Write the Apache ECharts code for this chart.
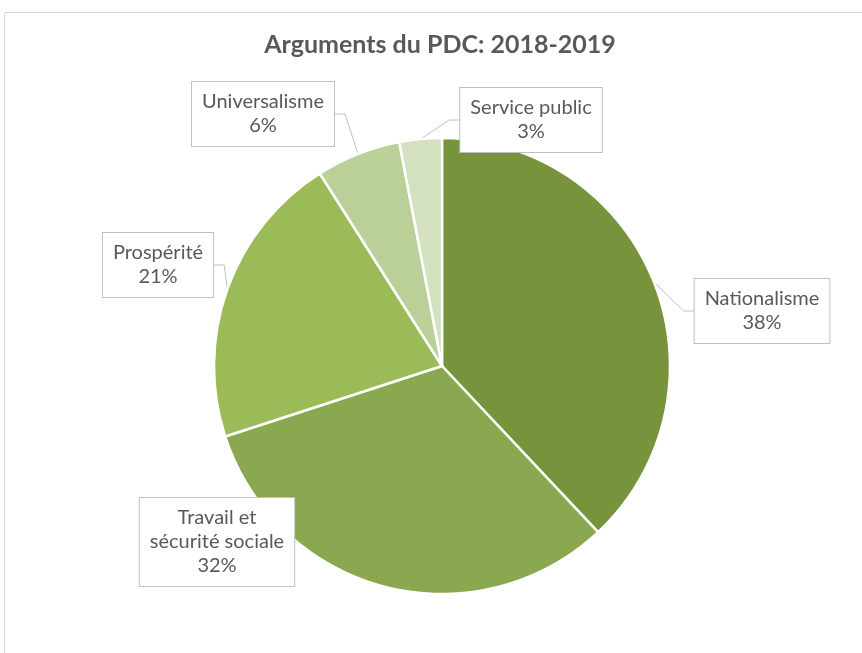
<!DOCTYPE html>
<html>
<head>
<meta charset="utf-8">
<title>Arguments du PDC: 2018-2019</title>
<script src="https://cdn.jsdelivr.net/npm/echarts@6/dist/echarts.min.js"></script>
<style>
  html, body { margin: 0; padding: 0; background: #ffffff; }
  #chart { width: 862px; height: 653px; }
</style>
</head>
<body>
<div id="chart"></div>
<script>
// Categories and shares (percent), clockwise from 12 o'clock
const categories = ['Nationalisme', 'Travail et\nsécurité sociale', 'Prospérité', 'Universalisme', 'Service public'];
const shares = [38, 32, 21, 6, 3];
const sliceColors = ['#77933c', '#8aa84f', '#9bbb59', '#bbcf99', '#d4e1c0'];
// Callout box centres (px)
const calloutX = [762, 217, 158, 263, 531];
const calloutY = [311, 542, 265, 114, 120];

const chart = echarts.init(document.getElementById('chart'), null, { renderer: 'canvas' });

const fontFamily = 'Lato, "Open Sans", sans-serif';

chart.setOption({
  backgroundColor: '#ffffff',
  animation: false,
  title: {
    text: 'Arguments du PDC: 2018-2019',
    left: 435, top: 27,
    textAlign: 'center',
    textStyle: { fontFamily: fontFamily, fontSize: 25, fontWeight: 'bold', color: '#595959' }
  },
  graphic: [{
    type: 'rect', silent: true, z: -1,
    shape: { x: 4.5, y: 12.5, width: 900, height: 700 },
    style: { fill: 'none', stroke: '#d9d9d9', lineWidth: 1 }
  }],
  series: [{
    type: 'pie',
    center: [442, 366],
    radius: [0, 228],
    startAngle: 90,
    clockwise: true,
    avoidLabelOverlap: false,
    data: categories.map((name, i) => ({
      name: name, value: shares[i],
      itemStyle: { color: sliceColors[i] }
    })),
    itemStyle: { borderColor: '#ffffff', borderWidth: 2.5 },
    label: {
      show: true,
      position: 'outside',
      formatter: p => p.name + '\n' + p.value + '%',
      fontFamily: fontFamily,
      fontSize: 20,
      lineHeight: 24,
      color: '#595959',
      align: 'center',
      backgroundColor: '#ffffff',
      borderColor: '#bfbfbf',
      borderWidth: 1,
      padding: [8, 10, 8, 10]
    },
    labelLine: {
      show: true, length: 10, length2: 10,
      lineStyle: { color: '#bfbfbf', width: 1 }
    },
    labelLayout: p => ({
      x: calloutX[p.dataIndex],
      y: calloutY[p.dataIndex],
      align: 'center',
      verticalAlign: 'middle'
    })
  }]
});
</script>
</body>
</html>
